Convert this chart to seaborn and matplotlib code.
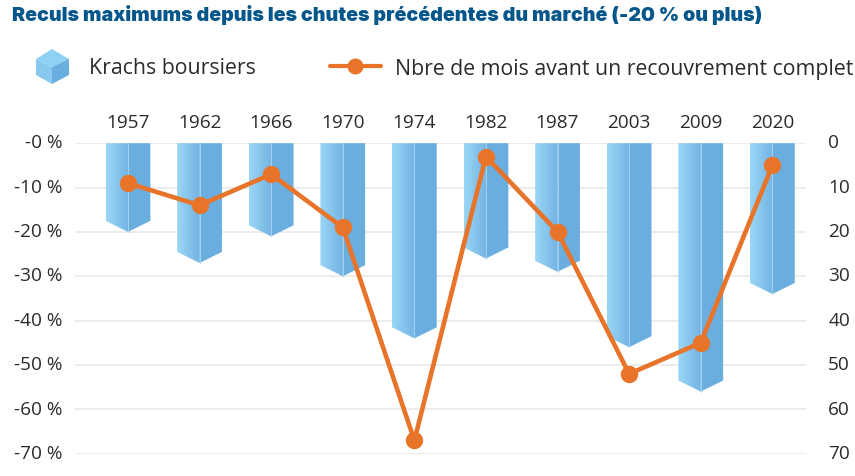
import numpy as np
import pandas as pd
import seaborn as sns
from matplotlib import pyplot as plt
from matplotlib.colors import LinearSegmentedColormap
from matplotlib.lines import Line2D
from matplotlib.patches import Polygon
from matplotlib.transforms import ScaledTranslation

years = ['1957', '1962', '1966', '1970', '1974', '1982', '1987', '2003', '2009', '2020']
krachs = [-20, -27, -21, -30, -44, -26, -29, -46, -56, -34]
mois = [9, 14, 7, 19, 67, 3, 20, 52, 45, 5]
left_ticks = [0, -10, -20, -30, -40, -50, -60, -70]
right_ticks = [0, 10, 20, 30, 40, 50, 60, 70]

W, H = 855, 477
BLUE = '#6aaee0'
ORANGE = '#e8742a'
TEXT = '#2b2b2b'
grad = LinearSegmentedColormap.from_list('bar', ['#9ad6f6', '#74b4e4'])

sns.set_theme(style='white')
plt.rcParams['font.family'] = ['Open Sans', 'DejaVu Sans']

df = pd.DataFrame({'year': years, 'krach': krachs, 'mois': mois})

fig = plt.figure(figsize=(W / 100, H / 100), dpi=100)
ax = fig.add_axes([75 / W, 1 - 454.7 / H, 731 / W, 310.5 / H])

sns.barplot(data=df, x='year', y='krach', color=BLUE, width=0.625, ax=ax, zorder=2)

# seaborn gives the bars, then each one is redrawn as a faceted 3D column
tip = 2.5
for bar in list(ax.patches):
    x0 = bar.get_x()
    w = bar.get_width()
    low = bar.get_y() + bar.get_height()
    mid = x0 + w / 2
    bar.set_visible(False)
    left = Polygon([(x0, 0), (mid, 0), (mid, low), (x0, low + tip)], closed=True,
                   transform=ax.transData, fc='none', ec='none')
    ax.add_patch(left)
    img = ax.imshow(np.linspace(0, 1, 64).reshape(1, -1), cmap=grad, aspect='auto',
                    extent=(x0, mid, low, 0), zorder=2)
    img.set_clip_path(left)
    ax.add_patch(Polygon([(mid, 0), (x0 + w, 0), (x0 + w, low + tip), (mid, low)], closed=True,
                         fc=BLUE, ec='none', zorder=2))
    ax.plot([mid, mid], [0, low], color='#a5d3f2', lw=0.7, zorder=2.5)

ax.set_xlim(-0.74, 9.47)
ax.set_ylim(-70, 0)
ax.set_yticks(left_ticks)
ax.set_yticklabels([f'-{abs(t)} %' for t in left_ticks])
ax.xaxis.tick_top()
ax.set_xlabel('')
ax.set_ylabel('')
ax.grid(axis='y', color='#ececec', lw=1.4, zorder=0)
ax.set_axisbelow(True)
sns.despine(ax=ax, left=True, bottom=True, top=True, right=True)
ax.tick_params(axis='both', length=0, labelsize=13.7, labelcolor=TEXT)
ax.tick_params(axis='x', pad=8.5)
ax.tick_params(axis='y', pad=9)

ax2 = ax.twinx()
sns.pointplot(data=df, x='year', y='mois', color=ORANGE, linewidth=3.3, markersize=10,
              errorbar=None, ax=ax2, clip_on=False)
ax2.set_xlim(-0.74, 9.47)
ax2.set_ylim(70, 0)
ax2.set_yticks(right_ticks)
ax2.set_xlabel('')
ax2.set_ylabel('')
ax2.grid(False)
sns.despine(ax=ax2, left=True, bottom=True, top=True, right=True)
ax2.tick_params(axis='y', length=0, labelsize=13.7, labelcolor=TEXT, pad=16)
ax2.tick_params(axis='x', length=0, labeltop=False, labelbottom=False)

# y labels sit a little above their gridlines in the original
nudge = ScaledTranslation(0, 2 / 72, fig.dpi_scale_trans)
for lab in ax.get_yticklabels() + ax2.get_yticklabels():
    lab.set_transform(lab.get_transform() + nudge)


def px(x, y):
    return x / W, 1 - y / H


fig.text(*px(12, 15), 'Reculs maximums depuis les chutes précédentes du marché (-20 % ou plus)',
         family=['Inter', 'DejaVu Sans'], weight='black', fontsize=14.15, color='#05568a', va='center')

# legend: cube icon, orange line sample, labels
fig.add_artist(Polygon([px(36, 60), px(52, 50), px(69, 60), px(52, 68)], closed=True,
                       transform=fig.transFigure, fc='#8fd0f5', ec='none'))
fig.add_artist(Polygon([px(36, 60), px(52, 68), px(52, 85), px(36, 76)], closed=True,
                       transform=fig.transFigure, fc='#88c8ef', ec='none'))
fig.add_artist(Polygon([px(52, 68), px(69, 60), px(69, 76), px(52, 85)], closed=True,
                       transform=fig.transFigure, fc=BLUE, ec='none'))
fig.text(*px(89, 69), 'Krachs boursiers', fontsize=15.35, color=TEXT, va='center')
fig.add_artist(Line2D([330 / W, 381 / W], [1 - 67 / H] * 2, transform=fig.transFigure, color=ORANGE,
                      lw=3, marker='none', solid_capstyle='round'))
fig.add_artist(Line2D([355 / W], [1 - 67 / H], transform=fig.transFigure, color=ORANGE,
                      marker='o', markersize=10.5, ls='none'))
fig.text(*px(395, 69), 'Nbre de mois avant un recouvrement complet', fontsize=15.35, color=TEXT, va='center')

fig.savefig('out.png', dpi=100)
